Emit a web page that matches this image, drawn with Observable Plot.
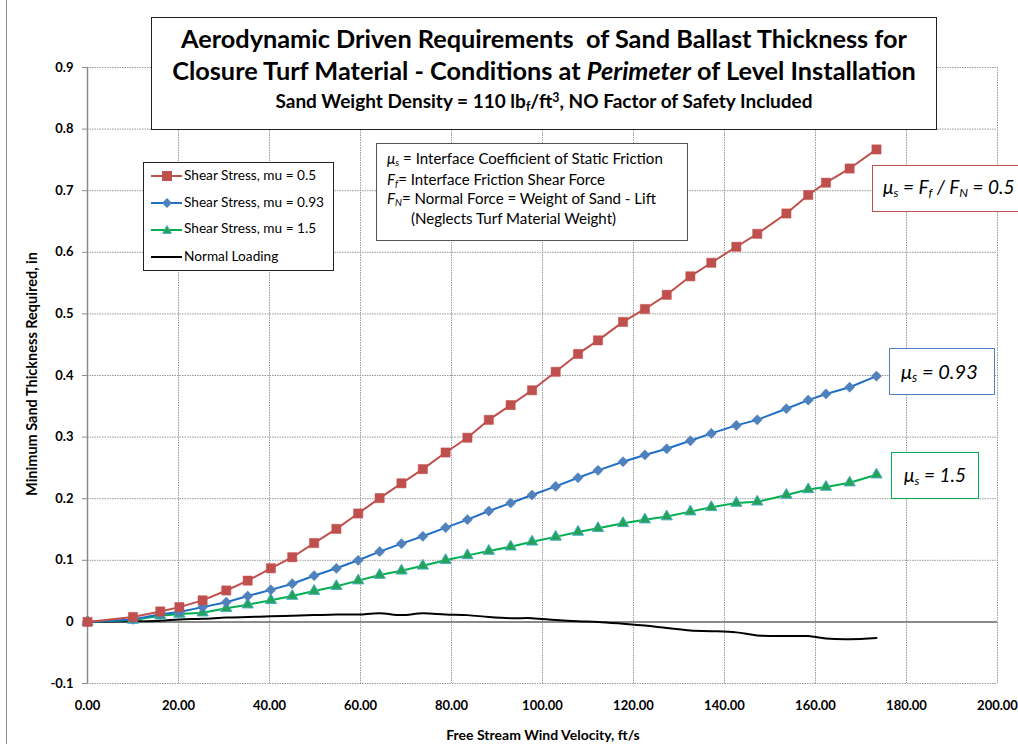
<!DOCTYPE html>
<html><head><meta charset="utf-8">
<script src="https://cdn.jsdelivr.net/npm/d3@7"></script>
<script src="https://cdn.jsdelivr.net/npm/@observablehq/plot@0.6"></script>
<style>
body{margin:0;background:#fff;font-family:Lato,"Open Sans",sans-serif;color:#000;}
#wrap{position:relative;width:1018px;height:744px;overflow:hidden;}
#wrap svg{position:absolute;left:0;top:0;}
.box{position:absolute;background:#fff;box-sizing:border-box;}
.tl{position:absolute;left:0;right:0;text-align:center;font-weight:bold;white-space:nowrap;line-height:1;}
.ln{position:absolute;white-space:nowrap;line-height:1;}
.lab{position:absolute;font-style:italic;font-size:19px;white-space:nowrap;}
.axl{position:absolute;font-weight:bold;white-space:nowrap;line-height:1;font-size:14px;}
sub{font-size:65%;vertical-align:-0.25em;line-height:0;}
sup{font-size:65%;vertical-align:0.5em;line-height:0;}
</style></head><body><div id="wrap"></div>
<script>
// ---- data ----
const velocity = [0, 10, 16, 20.2, 25.3, 30.5, 35.2, 40.3, 45, 49.8, 54.7, 59.5, 64.2, 69, 73.7, 78.7, 83.5, 88.2, 93, 97.7, 102.9, 107.8, 112.2, 117.7, 122.5, 127.3, 132.5, 137.1, 142.6, 147.2, 153.6, 158.4, 162.3, 167.5, 173.4];
const shearMu05 = [0, 0.008, 0.017, 0.024, 0.035, 0.051, 0.067, 0.087, 0.105, 0.128, 0.151, 0.176, 0.201, 0.225, 0.248, 0.275, 0.299, 0.328, 0.352, 0.376, 0.406, 0.435, 0.457, 0.487, 0.508, 0.531, 0.561, 0.583, 0.609, 0.630, 0.663, 0.693, 0.713, 0.736, 0.767];
const shearMu093 = [0, 0.004, 0.0125, 0.016, 0.024, 0.032, 0.042, 0.052, 0.062, 0.075, 0.087, 0.100, 0.114, 0.127, 0.139, 0.153, 0.166, 0.180, 0.193, 0.206, 0.220, 0.234, 0.246, 0.260, 0.271, 0.281, 0.294, 0.306, 0.319, 0.328, 0.346, 0.360, 0.370, 0.381, 0.399];
const shearMu15 = [0, 0.003, 0.010, 0.013, 0.015, 0.022, 0.028, 0.035, 0.042, 0.050, 0.058, 0.067, 0.076, 0.083, 0.091, 0.100, 0.108, 0.115, 0.122, 0.130, 0.138, 0.146, 0.152, 0.160, 0.166, 0.171, 0.179, 0.186, 0.193, 0.195, 0.206, 0.215, 0.219, 0.226, 0.239];
const normalLoading = [0, 0.001, 0.002, 0.004, 0.005, 0.007, 0.008, 0.009, 0.010, 0.011, 0.012, 0.012, 0.014, 0.011, 0.014, 0.012, 0.011, 0.008, 0.006, 0.006, 0.003, 0.001, 0.000, -0.003, -0.006, -0.010, -0.014, -0.015, -0.017, -0.022, -0.023, -0.023, -0.027, -0.028, -0.026];
const seriesNames = ["Shear Stress, mu = 0.5", "Shear Stress, mu = 0.93", "Shear Stress, mu = 1.5", "Normal Loading"];
const xTicks = [0, 20, 40, 60, 80, 100, 120, 140, 160, 180, 200];
const yTicks = [-0.1, 0, 0.1, 0.2, 0.3, 0.4, 0.5, 0.6, 0.7, 0.8, 0.9];
const xLabel = "Free Stream Wind Velocity, ft/s";
const yLabel = "Minimum Sand Thickness Required, in";

const mk = vals => velocity.map((v, i) => ({v, t: vals[i]}));
const red = mk(shearMu05), blue = mk(shearMu093), green = mk(shearMu15), black = mk(normalLoading);

const C = {red:"#c0504d", blueLine:"#1f6fc5", blueDot:"#4f81bd", greenLine:"#00b050", greenDot:"#23a455", greenEdge:"#4bacc6"};
const yFmt = d => Math.abs(d) < 1e-9 ? "0" : d.toFixed(1);
const grid = {stroke:"#9a9a9a", strokeOpacity:1, strokeDasharray:"1.5,1", strokeWidth:1};

const plot = Plot.plot({
  width:1018, height:744,
  marginLeft:87, marginRight:21, marginTop:67, marginBottom:61,
  style:{fontFamily:"Lato, sans-serif", fontSize:"13px", fontWeight:"bold", color:"#000", background:"transparent", overflow:"visible"},
  x:{domain:[0,200]},
  y:{domain:[-0.1,0.9]},
  marks:[
    Plot.gridX(xTicks, grid),
    Plot.gridY(yTicks, grid),
    Plot.ruleX([0], {stroke:"#8a8a8a", strokeWidth:1.5}),
    Plot.ruleY([0], {stroke:"#8a8a8a", strokeWidth:2}),
    Plot.axisY(yTicks, {tickSize:5, tickPadding:9, stroke:"#8a8a8a", tickFormat:yFmt, label:null}),
    Plot.axisX(xTicks, {tickSize:0, tickPadding:17, tickFormat:d3.format(".2f"), label:null}),
    Plot.line(black, {x:"v", y:"t", stroke:"#000", strokeWidth:2, curve:"catmull-rom"}),
    Plot.line(green, {x:"v", y:"t", stroke:C.greenLine, strokeWidth:2}),
    Plot.dot(green, {x:"v", y:"t", symbol:"triangle", r:4.2, fill:C.greenDot, stroke:C.greenEdge, strokeWidth:1}),
    Plot.line(blue, {x:"v", y:"t", stroke:C.blueLine, strokeWidth:2}),
    Plot.dot(blue, {x:"v", y:"t", symbol:"diamond2", r:4.6, fill:C.blueDot, stroke:C.blueDot, strokeWidth:0.5}),
    Plot.line(red, {x:"v", y:"t", stroke:C.red, strokeWidth:2}),
    Plot.dot(red, {x:"v", y:"t", symbol:"square", r:5.2, fill:C.red, stroke:C.red, strokeWidth:0.5})
  ]
});
const wrap = document.getElementById("wrap");
wrap.appendChild(plot);

function add(html){ wrap.insertAdjacentHTML("beforeend", html); }

// outer chart border (left edge)
add(`<div style="position:absolute;left:6px;top:0;width:1px;height:744px;background:#8a8a8a"></div>`);

// axis titles
add(`<div class="axl" style="left:543px;top:735px;transform:translate(-50%,-50%)">${xLabel}</div>`);
add(`<div class="axl" style="left:32px;top:374px;transform:translate(-50%,-50%) rotate(-90deg);font-size:14.5px">${yLabel}</div>`);

// title box
add(`<div class="box" style="left:151px;top:17px;width:786px;height:113px;border:1.5px solid #222">
  <div class="tl" style="top:8px;font-size:25.3px">Aerodynamic Driven Requirements&nbsp; of Sand Ballast Thickness for</div>
  <div class="tl" style="top:39.5px;font-size:25.3px">Closure Turf Material - Conditions at <i>Perimeter</i> of Level Installation</div>
  <div class="tl" style="top:73px;font-size:19px">Sand Weight Density = 110 lb<sub>f</sub>/ft<sup>3</sup>, NO Factor of Safety Included</div>
</div>`);

// legend
const sw = (kind) => {
  let m = "";
  if (kind === 0) m = `<line x1="0" y1="7" x2="31" y2="7" stroke="${C.red}" stroke-width="2"/><rect x="11" y="2" width="10" height="10" fill="${C.red}"/>`;
  if (kind === 1) m = `<line x1="0" y1="7" x2="31" y2="7" stroke="${C.blueLine}" stroke-width="2"/><path d="M16,2 L21,7 L16,12 L11,7Z" fill="${C.blueDot}"/>`;
  if (kind === 2) m = `<line x1="0" y1="7" x2="31" y2="7" stroke="${C.greenLine}" stroke-width="2"/><path d="M16,2.5 L20.5,10.5 L11.5,10.5Z" fill="${C.greenDot}" stroke="${C.greenEdge}" stroke-width="0.8"/>`;
  if (kind === 3) m = `<line x1="0" y1="7" x2="31" y2="7" stroke="#000" stroke-width="2"/>`;
  return `<svg width="32" height="14" style="position:absolute;left:7px;top:-7px">${m}</svg>`;
};
let leg = `<div class="box" style="left:143px;top:161.5px;width:190.5px;height:109px;border:1.5px solid #222">`;
seriesNames.forEach((n, i) => {
  const cy = [13.5, 40.5, 67, 94.5][i];
  leg += `<div style="position:absolute;left:0;top:${cy}px">${sw(i)}<span class="ln leg" style="left:40px;font-size:13.7px">${n}</span></div>`;
});
leg += `</div>`;
add(leg);

// definitions box
add(`<div class="box" style="left:376px;top:143px;width:312px;height:98px;border:1.5px solid #555">
  <div class="ln def" style="left:10px;top:7px;font-size:13.8px"><i>μ<sub>s</sub></i> = Interface Coefficient of Static Friction</div>
  <div class="ln def" style="left:10px;top:28px;font-size:13.8px"><i>F<sub>f</sub></i>= Interface Friction Shear Force</div>
  <div class="ln def" style="left:10px;top:47px;font-size:13.8px"><i>F<sub>N</sub></i>= Normal Force = Weight of Sand - Lift</div>
  <div class="ln def" style="left:34px;top:67px;font-size:13.8px">(Neglects Turf Material Weight)</div>
</div>`);

// fit text groups to the widths measured on the reference
function fit(cls, refIndex, targetW){
  const els = [...document.querySelectorAll("." + cls)];
  const ref = els[refIndex];
  const fs = parseFloat(getComputedStyle(ref).fontSize);
  const w = ref.getBoundingClientRect().width;
  const nfs = fs * targetW / w;
  els.forEach(e => { e.style.fontSize = nfs + "px"; });
  return nfs;
}
const lfs = fit("leg", 1, 140);
document.querySelectorAll(".leg").forEach(e => { e.style.top = (-lfs / 2 - 0.5) + "px"; });
fit("def", 0, 276);

// series labels
add(`<div class="box" style="left:872px;top:165px;width:160px;height:47px;border:1.5px solid ${C.red}">
  <span class="lab" style="left:10px;top:9px">μ<sub>s</sub> = F<sub>f</sub> / F<sub>N</sub> = 0.5</span></div>`);
add(`<div class="box" style="left:889px;top:348px;width:106px;height:47px;border:1.5px solid ${C.blueDot}">
  <span class="lab" style="left:11px;top:10px;font-size:20px">μ<sub>s</sub> = 0.93</span></div>`);
add(`<div class="box" style="left:891px;top:452px;width:88px;height:47px;border:1.5px solid ${C.greenLine}">
  <span class="lab" style="left:12px;top:10px">μ<sub>s</sub> = 1.5</span></div>`);
</script>
</body></html>
